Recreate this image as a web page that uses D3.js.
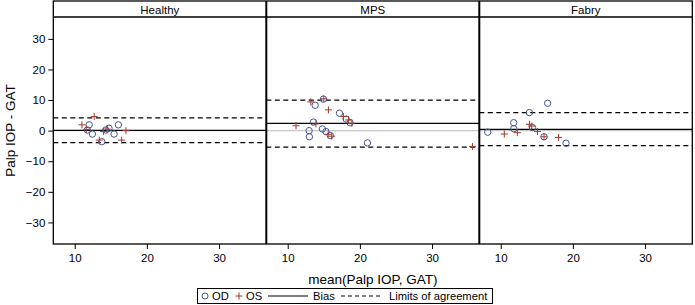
<!DOCTYPE html>
<html><head><meta charset="utf-8">
<script src="https://cdn.jsdelivr.net/npm/d3@7/dist/d3.min.js"></script>
<style>body{margin:0;background:#fff}svg{display:block;font-family:"Liberation Sans",Arial,sans-serif}</style>
</head><body><svg id="c" width="695" height="305"></svg>
<script>
const groups = ["Healthy", "MPS", "Fabry"];
const bias = [0.1, 2.4, 0.45];
const loaUpper = [4.2, 10.0, 5.9];
const loaLower = [-3.9, -5.4, -4.9];
const xTicks = [10, 20, 30];
const yTicks = [-30, -20, -10, 0, 10, 20, 30];

const healthyOD = [[12.0,1.9],[12.45,-1.1],[11.75,0.2],[13.75,-3.6],[14.3,0.2],[14.75,0.8],[15.45,-1.1],[16.05,1.9]];
const healthyOS = [[11.0,1.9],[12.7,4.6],[11.6,0.4],[13.4,-3.1],[14.0,-0.3],[14.5,0.5],[16.5,-3.1],[17.1,0.0]];
const mpsOD = [[13.8,8.3],[14.95,10.3],[12.96,0.0],[13.0,-2.0],[13.56,2.8],[14.8,0.55],[15.3,-0.3],[15.9,-1.6],[17.17,5.7],[18.1,3.8],[18.65,2.6],[21.05,-4.0]];
const mpsOS = [[11.15,1.6],[13.2,9.4],[15.0,10.4],[13.9,2.2],[15.64,6.8],[17.72,4.6],[18.42,3.5],[18.89,2.4],[15.6,-1.2],[16.1,-1.8],[35.6,-5.2]];
const fabryOD = [[16.5,8.95],[13.97,5.9],[11.8,2.6],[11.8,0.65],[8.2,-0.5],[14.4,1.0],[16.0,-2.0],[19.05,-4.1]];
const fabryOS = [[10.5,-1.1],[12.3,-0.65],[13.97,2.1],[14.3,1.5],[15.1,-0.3],[16.0,-2.0],[18.0,-2.2]];

const odData = [healthyOD, mpsOD, fabryOD];
const osData = [healthyOS, mpsOS, fabryOS];

(function () {
const colOD = "#445694", colOS = "#A23A2E";
const svg = d3.select("#c");
const left = 53.3, right = 692.3, topY = 1, plotTop = 17, plotBottom = 244;
const panelW = (right - left) / 3;

const y = d3.scaleLinear().domain([-37.05, 37.15]).range([plotBottom, plotTop]);

groups.forEach((g, i) => {
  const x0 = left + i * panelW;
  const x = d3.scaleLinear().domain([7.03, 36.55]).range([x0, x0 + panelW]);
  const gp = svg.append("g");
  gp.append("text").attr("x", x0 + panelW / 2).attr("y", topY + 12.5)
    .attr("text-anchor", "middle").attr("font-size", 11.5).attr("fill", "#000").text(g);
  const cid = "clip" + i;
  svg.append("clipPath").attr("id", cid).append("rect")
    .attr("x", x0).attr("y", plotTop).attr("width", panelW).attr("height", plotBottom - plotTop);
  const pg = gp.append("g").attr("clip-path", `url(#${cid})`);
  pg.append("line").attr("x1", x0).attr("x2", x0 + panelW).attr("y1", y(0)).attr("y2", y(0))
    .attr("stroke", "#c8c8c8").attr("stroke-width", 1.2);
  pg.append("line").attr("x1", x0).attr("x2", x0 + panelW).attr("y1", y(bias[i])).attr("y2", y(bias[i]))
    .attr("stroke", "#000").attr("stroke-width", 1.2);
  [loaUpper[i], loaLower[i]].forEach(v => {
    pg.append("line").attr("x1", x0).attr("x2", x0 + panelW).attr("y1", y(v)).attr("y2", y(v))
      .attr("stroke", "#000").attr("stroke-width", 1.3).attr("stroke-dasharray", "5,3.5");
  });
  pg.selectAll(".od").data(odData[i]).enter().append("circle")
    .attr("cx", d => x(d[0])).attr("cy", d => y(d[1])).attr("r", 3.2)
    .attr("fill", "none").attr("stroke", colOD).attr("stroke-width", 1);
  const s = 3.5;
  pg.selectAll(".os").data(osData[i]).enter().append("path")
    .attr("d", d => `M${x(d[0]) - s},${y(d[1])}H${x(d[0]) + s}M${x(d[0])},${y(d[1]) - s}V${y(d[1]) + s}`)
    .attr("stroke", colOS).attr("stroke-width", 1).attr("fill", "none");
  const ax = gp.append("g").attr("transform", `translate(0,${plotBottom})`)
    .call(d3.axisBottom(x).tickValues(xTicks).tickSize(5).tickPadding(5));
  ax.select(".domain").remove();
  ax.selectAll("line").attr("stroke", "#000");
  ax.selectAll("text").attr("font-size", 11.5).attr("fill", "#000").attr("font-family", "Liberation Sans, Arial, sans-serif");
});

const ay = svg.append("g").attr("transform", `translate(${left},0)`)
  .call(d3.axisLeft(y).tickValues(yTicks).tickSize(5).tickPadding(3));
ay.select(".domain").remove();
ay.selectAll("line").attr("stroke", "#000");
ay.selectAll("text").attr("font-size", 11.5).attr("fill", "#000").attr("font-family", "Liberation Sans, Arial, sans-serif");

const fr = svg.append("g").attr("fill", "none").attr("stroke", "#000");
fr.append("rect").attr("x", left).attr("y", topY).attr("width", right - left).attr("height", plotBottom - topY).attr("stroke-width", 1.3);
fr.append("line").attr("x1", left).attr("x2", right).attr("y1", plotTop).attr("y2", plotTop).attr("stroke-width", 1.3);
[1, 2].forEach(k => {
  fr.append("line").attr("x1", left + k * panelW).attr("x2", left + k * panelW)
    .attr("y1", topY).attr("y2", plotBottom).attr("stroke-width", 2);
});

svg.append("text").attr("x", left + 1.5 * panelW).attr("y", 283.5).attr("text-anchor", "middle")
  .attr("font-size", 13.5).text("mean(Palp IOP, GAT)");
svg.append("text").attr("transform", `translate(15,${(plotTop + plotBottom) / 2}) rotate(-90)`)
  .attr("text-anchor", "middle").attr("font-size", 13.5).text("Palp IOP - GAT");

const lg = svg.append("g");
const ly = 296;
const lf = 11.2;
lg.append("rect").attr("x", 197.5).attr("y", 288.5).attr("width", 295).attr("height", 15)
  .attr("fill", "none").attr("stroke", "#000").attr("stroke-width", 1);
lg.append("circle").attr("cx", 205).attr("cy", ly).attr("r", 3).attr("fill", "none").attr("stroke", colOD);
lg.append("text").attr("x", 212).attr("y", ly + 4).attr("font-size", lf).text("OD");
lg.append("path").attr("d", `M235.5,${ly}H242.5M239,${ly - 3.5}V${ly + 3.5}`).attr("stroke", colOS);
lg.append("text").attr("x", 246).attr("y", ly + 4).attr("font-size", lf).text("OS");
lg.append("line").attr("x1", 268).attr("x2", 308).attr("y1", ly).attr("y2", ly).attr("stroke", "#000").attr("stroke-width", 1.2);
lg.append("text").attr("x", 313).attr("y", ly + 4).attr("font-size", lf).text("Bias");
lg.append("line").attr("x1", 341).attr("x2", 383).attr("y1", ly).attr("y2", ly).attr("stroke", "#000").attr("stroke-width", 1.2).attr("stroke-dasharray", "4,3");
lg.append("text").attr("x", 389).attr("y", ly + 4).attr("font-size", lf).text("Limits of agreement");
})();
</script></body></html>
